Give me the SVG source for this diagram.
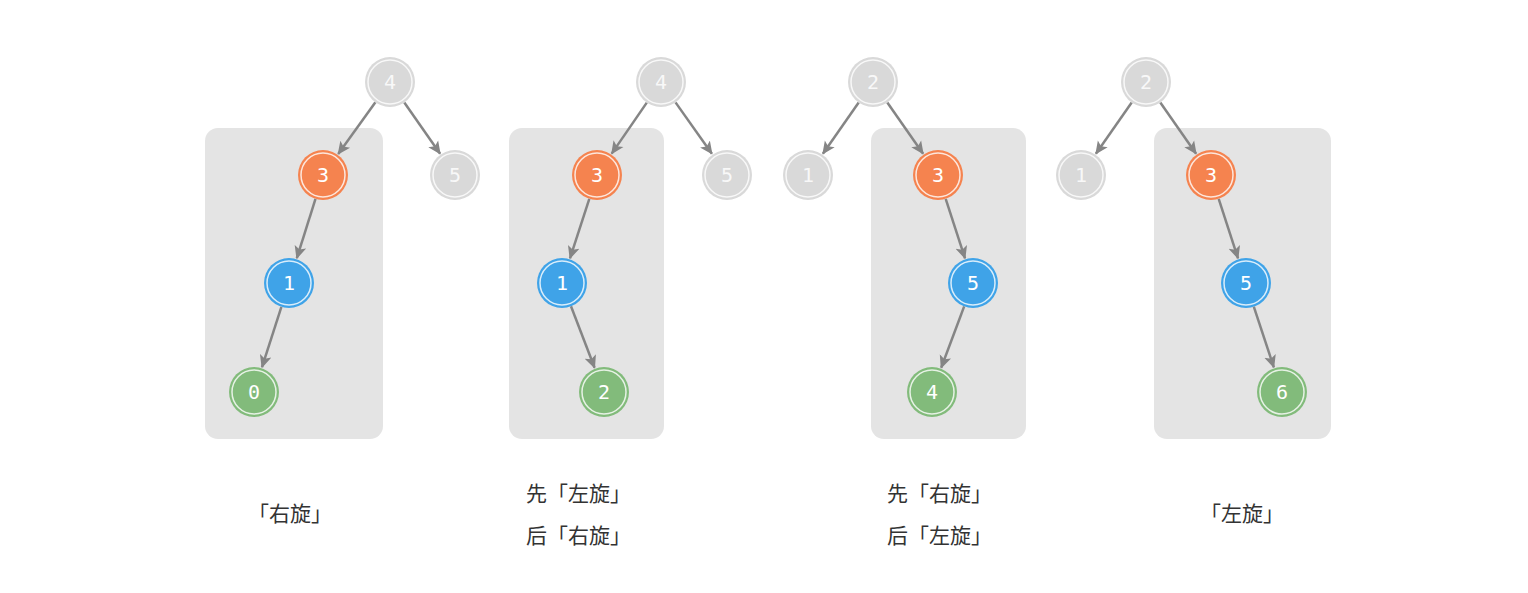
<svg xmlns="http://www.w3.org/2000/svg" width="1528" height="593" viewBox="0 0 1528 593">
<style>
.box{fill:#e4e4e4}
.ring{stroke:#fff;stroke-width:1.5;fill:none;opacity:0.8}
.g{fill:#d9d9d9}
.o{fill:#f5834f}
.b{fill:#3fa3e8}
.gr{fill:#82bb7b}
.t{font-family:"DejaVu Sans Mono",monospace;font-size:20px;fill:#fff;text-anchor:middle;dominant-baseline:central}
.tg{fill:#f8f8f8}
.e{stroke:#858585;stroke-width:2.5;fill:none;marker-end:url(#arr)}
.lbl{font-family:"Noto Sans CJK SC","Noto Sans",sans-serif;font-size:21px;fill:#333}
</style>
<defs>
<marker id="arr" markerUnits="userSpaceOnUse" markerWidth="14" markerHeight="14" viewBox="0 0 14 14" refX="12" refY="7" orient="auto">
<path d="M0,1 L13,7 L0,13 L3,7 z" fill="#858585"/>
</marker>
</defs>
<rect width="1528" height="593" fill="#fff"/>
<g id="boxes">
<rect class="box" x="205" y="128" width="178" height="311" rx="13"/>
<rect class="box" x="509" y="128" width="155" height="311" rx="13"/>
<rect class="box" x="871" y="128" width="155" height="311" rx="13"/>
<rect class="box" x="1154" y="128" width="177" height="311" rx="13"/>
</g>
<g id="connectors">
<line class="e" x1="375.4" y1="102.3" x2="338.2" y2="153.9"/>
<line class="e" x1="404.3" y1="102.5" x2="440.1" y2="153.7"/>
<line class="e" x1="315.5" y1="198.9" x2="296.8" y2="258.2"/>
<line class="e" x1="281.4" y1="306.8" x2="262" y2="367.2"/>
<line class="e" x1="646.8" y1="102.6" x2="611.7" y2="153.6"/>
<line class="e" x1="675.5" y1="102.4" x2="711.9" y2="153.8"/>
<line class="e" x1="589.3" y1="198.8" x2="570" y2="258.3"/>
<line class="e" x1="571" y1="306.3" x2="594.6" y2="367.7"/>
<line class="e" x1="858.7" y1="102.5" x2="822.9" y2="153.7"/>
<line class="e" x1="887.3" y1="102.5" x2="923.1" y2="153.7"/>
<line class="e" x1="945.7" y1="198.8" x2="965" y2="258.3"/>
<line class="e" x1="964.2" y1="306.4" x2="941.2" y2="367.7"/>
<line class="e" x1="1131.7" y1="102.5" x2="1095.9" y2="153.7"/>
<line class="e" x1="1160.3" y1="102.5" x2="1196.1" y2="153.7"/>
<line class="e" x1="1218.7" y1="198.8" x2="1238" y2="258.3"/>
<line class="e" x1="1253.8" y1="306.7" x2="1273.8" y2="367.3"/>
</g>
<g id="p1n4"><circle class="g" cx="390" cy="82" r="25"/><circle class="ring" cx="390" cy="82" r="22"/><text class="t tg" x="390" y="82">4</text></g>
<g id="p1n5"><circle class="g" cx="455" cy="175" r="25"/><circle class="ring" cx="455" cy="175" r="22"/><text class="t tg" x="455" y="175">5</text></g>
<g id="p1n3"><circle class="o" cx="323" cy="175" r="25"/><circle class="ring" cx="323" cy="175" r="22"/><text class="t" x="323" y="175">3</text></g>
<g id="p1n1"><circle class="b" cx="289" cy="283" r="25"/><circle class="ring" cx="289" cy="283" r="22"/><text class="t" x="289" y="283">1</text></g>
<g id="p1n0"><circle class="gr" cx="254" cy="392" r="25"/><circle class="ring" cx="254" cy="392" r="22"/><text class="t" x="254" y="392">0</text></g>

<g id="p2n4"><circle class="g" cx="661" cy="82" r="25"/><circle class="ring" cx="661" cy="82" r="22"/><text class="t tg" x="661" y="82">4</text></g>
<g id="p2n5"><circle class="g" cx="727" cy="175" r="25"/><circle class="ring" cx="727" cy="175" r="22"/><text class="t tg" x="727" y="175">5</text></g>
<g id="p2n3"><circle class="o" cx="597" cy="175" r="25"/><circle class="ring" cx="597" cy="175" r="22"/><text class="t" x="597" y="175">3</text></g>
<g id="p2n1"><circle class="b" cx="562" cy="283" r="25"/><circle class="ring" cx="562" cy="283" r="22"/><text class="t" x="562" y="283">1</text></g>
<g id="p2n2"><circle class="gr" cx="604" cy="392" r="25"/><circle class="ring" cx="604" cy="392" r="22"/><text class="t" x="604" y="392">2</text></g>

<g id="p3n2"><circle class="g" cx="873" cy="82" r="25"/><circle class="ring" cx="873" cy="82" r="22"/><text class="t tg" x="873" y="82">2</text></g>
<g id="p3n1"><circle class="g" cx="808" cy="175" r="25"/><circle class="ring" cx="808" cy="175" r="22"/><text class="t tg" x="808" y="175">1</text></g>
<g id="p3n3"><circle class="o" cx="938" cy="175" r="25"/><circle class="ring" cx="938" cy="175" r="22"/><text class="t" x="938" y="175">3</text></g>
<g id="p3n5"><circle class="b" cx="973" cy="283" r="25"/><circle class="ring" cx="973" cy="283" r="22"/><text class="t" x="973" y="283">5</text></g>
<g id="p3n4"><circle class="gr" cx="932" cy="392" r="25"/><circle class="ring" cx="932" cy="392" r="22"/><text class="t" x="932" y="392">4</text></g>

<g id="p4n2"><circle class="g" cx="1146" cy="82" r="25"/><circle class="ring" cx="1146" cy="82" r="22"/><text class="t tg" x="1146" y="82">2</text></g>
<g id="p4n1"><circle class="g" cx="1081" cy="175" r="25"/><circle class="ring" cx="1081" cy="175" r="22"/><text class="t tg" x="1081" y="175">1</text></g>
<g id="p4n3"><circle class="o" cx="1211" cy="175" r="25"/><circle class="ring" cx="1211" cy="175" r="22"/><text class="t" x="1211" y="175">3</text></g>
<g id="p4n5"><circle class="b" cx="1246" cy="283" r="25"/><circle class="ring" cx="1246" cy="283" r="22"/><text class="t" x="1246" y="283">5</text></g>
<g id="p4n6"><circle class="gr" cx="1282" cy="392" r="25"/><circle class="ring" cx="1282" cy="392" r="22"/><text class="t" x="1282" y="392">6</text></g>

<g id="labels">
<text class="lbl" x="248" y="521">「右旋」</text>
<text class="lbl" x="526" y="501">先「左旋」</text>
<text class="lbl" x="526" y="543">后「右旋」</text>
<text class="lbl" x="887" y="501">先「右旋」</text>
<text class="lbl" x="887" y="543">后「左旋」</text>
<text class="lbl" x="1200" y="521">「左旋」</text>
</g>
</svg>
